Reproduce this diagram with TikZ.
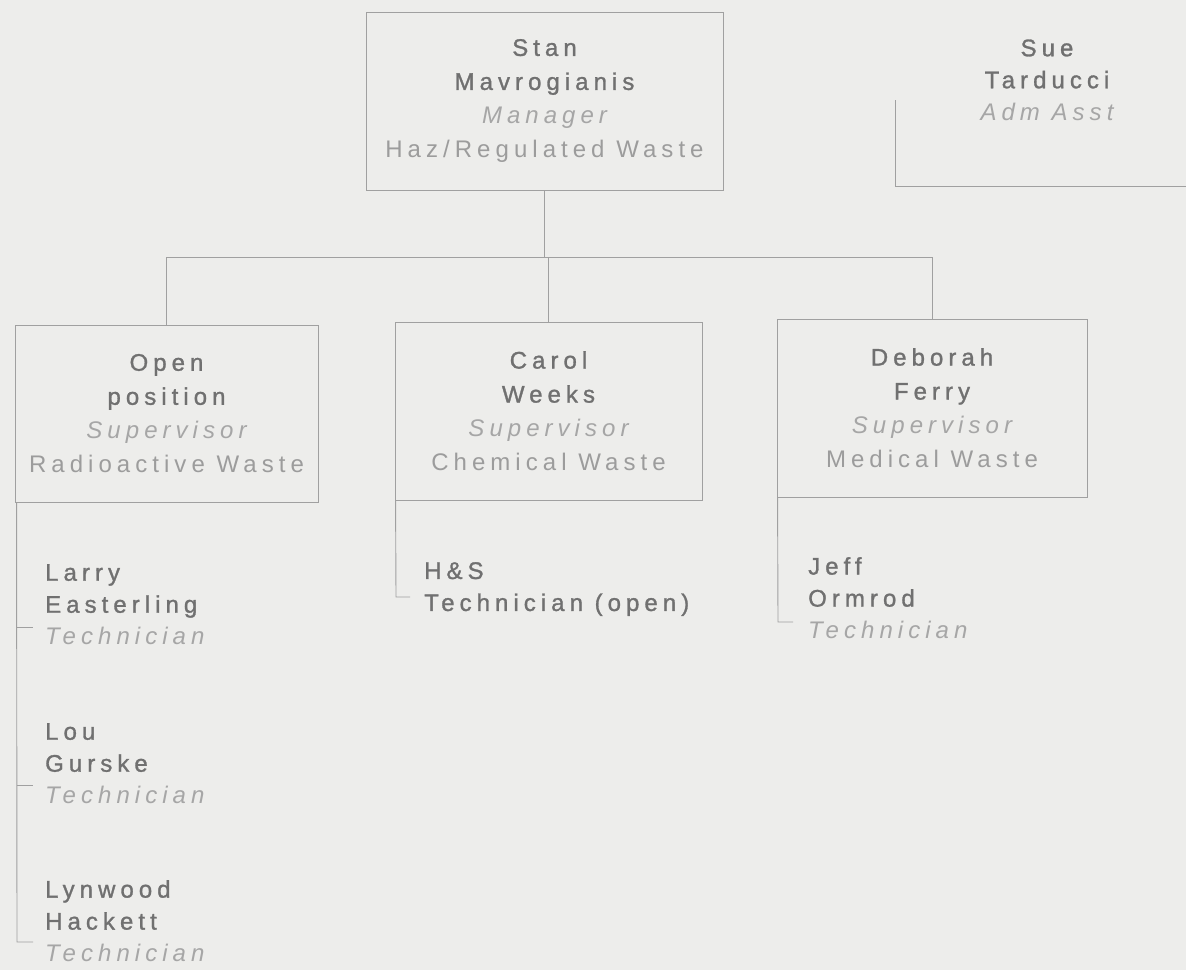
\documentclass[tikz,border=0pt]{standalone}
\usepackage{fontspec}
\setmainfont{Liberation Sans}[LetterSpace=21]
\usetikzlibrary{calc}
\definecolor{bg}{HTML}{EDEDEB}
\definecolor{namec}{HTML}{707070}
\definecolor{titlec}{HTML}{A6A6A6}
\definecolor{deptc}{HTML}{9C9C9C}
\definecolor{linec}{HTML}{A0A0A0}
\newcommand{\nm}[1]{\textcolor{namec}{\addfontfeature{FakeBold=1.2}#1}}
\newcommand{\ttl}[1]{\textcolor{titlec}{\itshape #1}}
\newcommand{\dpt}[1]{\textcolor{deptc}{#1}}
\begin{document}
\begin{tikzpicture}[x=1pt,y=-1pt,
  box/.style={draw=linec, line width=0.9pt, align=center, inner sep=0pt,
    font=\fontsize{24}{34}\selectfont},
  person/.style={align=left, anchor=north west, inner sep=0pt,
    font=\fontsize{24}{32}\selectfont},
  conn/.style={draw=linec, line width=0.9pt}]
\fill[bg] (0,0) rectangle (1186,970);
\useasboundingbox (0,0) rectangle (1186,970);

\node[box, minimum width=357pt, minimum height=178pt] (stan) at (544.5,101)
  {\nm{Stan}\\\nm{Mavrogianis}\\\ttl{Manager}\\\dpt{Haz/Regulated Waste}};
\node[align=center, inner sep=0pt, font=\fontsize{24}{32}\selectfont] (sue) at (1047,80)
  {\nm{Sue}\\\nm{Tarducci}\\\ttl{Adm Asst}};
\coordinate (suetl) at (895,100);
\coordinate (suebr) at (1186,186);
\draw[conn] (suetl) -- (suetl |- suebr) -- (suebr);

\node[box, minimum width=303pt, minimum height=177pt] (open) at (166.5,413.5)
  {\nm{Open}\\\nm{position}\\\ttl{Supervisor}\\\dpt{Radioactive Waste}};
\node[box, minimum width=307pt, minimum height=178pt] (carol) at (548.5,411)
  {\nm{Carol}\\\nm{Weeks}\\\ttl{Supervisor}\\\dpt{Chemical Waste}};
\node[box, minimum width=310pt, minimum height=178pt] (deb) at (932,408)
  {\nm{Deborah}\\\nm{Ferry}\\\ttl{Supervisor}\\\dpt{Medical Waste}};

\coordinate (bus) at (0,257);
\draw[conn] (stan.south) -- (stan.south |- bus);
\draw[conn] (open.north) |- (deb.north |- bus) -- (deb.north);
\draw[conn] (carol.north) -- (carol.north |- bus);

% Radioactive waste staff
\node[person] (larry) at (45,564) {\nm{Larry}\\\nm{Easterling}\\\ttl{Technician}};
\node[person] (lou) at (45,723) {\nm{Lou}\\\nm{Gurske}\\\ttl{Technician}};
\node[person] (lyn) at (45,880) {\nm{Lynwood}\\\nm{Hackett}\\\ttl{Technician}};
\coordinate (ot1) at (17,627);
\coordinate (ot2) at (17,785);
\coordinate (ot3) at (17,942);
\draw[conn] ($(open.south west)+(2,0)$) -- (ot3) -- ++(16,0);
\draw[conn] (ot1) -- ++(16,0);
\draw[conn] (ot2) -- ++(16,0);

% Chemical waste staff
\node[person] (hs) at (424,562) {\nm{H\&S}\\\nm{Technician (open)}};
\coordinate (ct) at (396,597);
\draw[conn] ($(carol.south west)+(1,0)$) -- (ct) -- ++(14,0);

% Medical waste staff
\node[person] (jeff) at (808,557) {\nm{Jeff}\\\nm{Ormrod}\\\ttl{Technician}};
\coordinate (dt) at (778,622);
\draw[conn] ($(deb.south west)+(1,0)$) -- (dt) -- ++(15,0);
\end{tikzpicture}
\end{document}
